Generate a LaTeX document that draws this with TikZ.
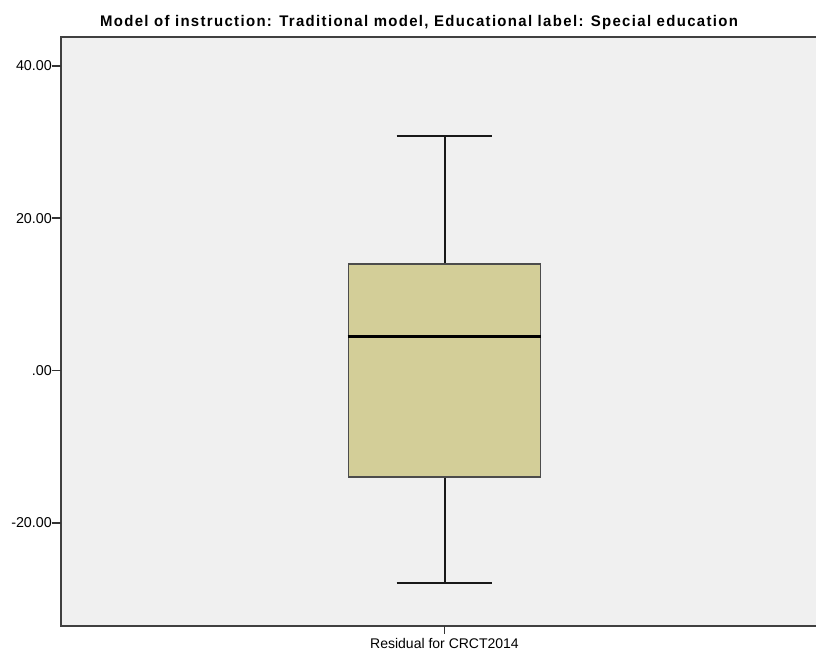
\documentclass[tikz,border=0pt]{standalone}
\usepackage{fontspec}
\setmainfont{Liberation Sans}
\newfontfamily\titlefont[LetterSpace=9]{Liberation Sans}
\begin{document}
\begin{tikzpicture}[x=1pt,y=-1pt,
  frameline/.style={draw=black!75,line width=1.8pt},
  whisker/.style={draw=black!90,line width=2pt},
  boxbody/.style={draw=black!70,line width=1.7pt,fill=boxfill},
  medianline/.style={draw=black,line width=3.4pt},
  ticklabel/.style={anchor=east,inner sep=0pt,font=\fontsize{14.3}{15}\selectfont},
  tickmark/.style={draw=black!80,line width=1.6pt}]
\definecolor{boxfill}{HTML}{D3CE98}
\definecolor{plotbg}{HTML}{F0F0F0}
\useasboundingbox (0,0) rectangle (816,652);
\fill[white] (0,0) rectangle (816,652);
% plot area
\fill[plotbg] (61,37) rectangle (816,626);
\draw[frameline] (816,37) -- (61,37) -- (61,626) -- (816,626);
% title
\node[inner sep=0pt,anchor=base] (title) at (419,27)
  {\scalebox{0.97}[1]{\fontsize{15.4}{16}\titlefont\bfseries Model of instruction: Traditional model, Educational label: Special education}};
% y axis ticks
\foreach \v/\lab/\n in {40/40.00/a,20/20.00/b,0/.00/c,-20/-20.00/d}{
  \pgfmathsetmacro{\yy}{370.5-7.6125*\v}
  \draw[tickmark] (52,\yy) -- (61,\yy);
  \node[ticklabel] (tick\n) at (52,\yy) {\lab};
}
% x axis tick and label
\draw[tickmark] (444.5,626) -- (444.5,634);
\node[inner sep=0pt,anchor=base,font=\fontsize{14}{15}\selectfont] (xlab) at (444.5,648) {Residual for CRCT2014};
% box plot
\coordinate (uppercap) at (444.5,135.7);
\coordinate (lowercap) at (444.5,583.3);
\node[boxbody,rectangle,minimum width=192pt,minimum height=212.4pt,inner sep=0pt] (iqr) at (444.5,370.5) {};
\draw[whisker] (iqr.north) -- (uppercap);
\draw[whisker] (iqr.south) -- (lowercap);
\draw[whisker] (396.7,135.7) -- (492.3,135.7);
\draw[whisker] (396.7,583.3) -- (492.3,583.3);
\draw[medianline] (iqr.west |- 0,336.7) -- (iqr.east |- 0,336.7);
\end{tikzpicture}
\end{document}
